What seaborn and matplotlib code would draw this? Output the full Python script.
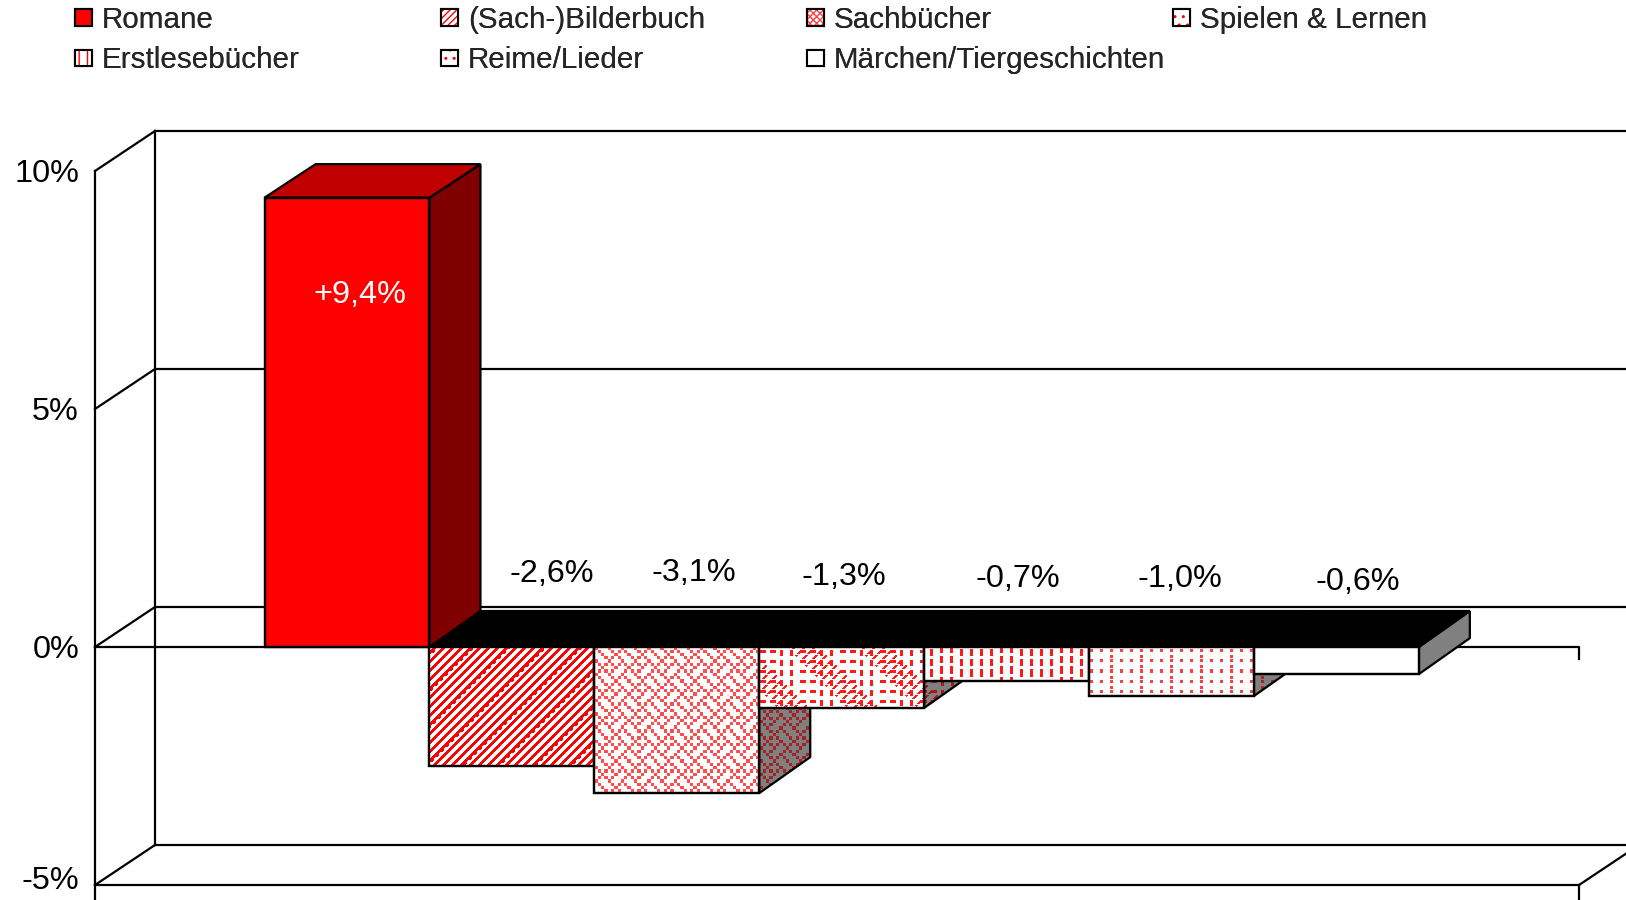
import numpy as np
import pandas as pd
import matplotlib
matplotlib.use("Agg")
import matplotlib.pyplot as plt
from matplotlib.patches import Polygon, Patch, Rectangle
from matplotlib.legend_handler import HandlerTuple
import seaborn as sns

categories = ["Romane", "(Sach-)Bilderbuch", "Sachbücher", "Spielen & Lernen",
              "Erstlesebücher", "Reime/Lieder", "Märchen/Tiergeschichten"]
values = [9.44, -2.5, -3.07, -1.28, -0.72, -1.03, -0.57]
labels = ["+9,4%", "-2,6%", "-3,1%", "-1,3%", "-0,7%", "-1,0%", "-0,6%"]
ticks = [-5, 0, 5, 10]
tick_labels = ["-5%", "0%", "5%", "10%"]

# Layout in pixels of the 1626x900 figure
W, H = 1626, 900
PX_PER_PCT = 47.6
Y0 = 647.0
X0 = 347.0
SLOT = 164.9
DX_BAR, DY_BAR = 51 / SLOT, 36 / PX_PER_PCT
DY_POS = 33.5 / PX_PER_PCT
DX_WALL, DY_WALL = 60 / SLOT, 40 / PX_PER_PCT
LW = 1.6
side_colors = ["#800000"] + ["#808080"] * 6
legend_hatches = [None, "/////", "xxxxx", "..", "||", "..", None]
legend_hatch_colors = ["red", "red", "#ff4040", "red", "red", "red", "red"]
tick_label_shift_px = [-4, 3.5, 3.5, 3.5]

# Fill textures (decoration only), one full-canvas mask per pattern
py, px = np.mgrid[0:H, 0:W]


def weave_mask():
    rows = ["10001000", "01010101", "00100010", "01000101",
            "10001000", "01010100", "00100010", "01010001"]
    bm = np.array([[c == "1" for c in r] for r in rows])
    return bm[(py / 3.3).astype(int) % 8, (px / 3.3).astype(int) % 8]


def stripe_mask():
    stripes = ((px + py) % 9) < 4
    beads = ((px + py) % 36 < 6) & ((px - py) % 10 < 5)
    return stripes | beads


def spiel_mask():
    band = (((px + py) % 10) < 3) & ((px - py) % 70 < 32) & (py % 5 < 4)
    hdash = (px % 10 < 6) & (py % 10 < 3) & (px % 40 < 20)
    vdash = (px % 10 < 3) & (py % 10 < 6) & (px % 40 >= 20)
    return band | hdash | vdash


def dash_mask():
    shift = (px % 60 >= 35) * 3
    return (px % 10 < 3) & ((py + shift) % 10 < 7)


def dot_mask():
    grid = (px % 10 < 3) & (py % 10 < 3)
    extra = (px % 10 < 3) & ((py + 4) % 10 < 3) & ((px % 30) < 10)
    return grid | extra


masks = [None, stripe_mask(), weave_mask(), spiel_mask(), dash_mask(), dot_mask(), None]
tex_colors = [None, (1, 0, 0), (1, .3, .3), (1, .1, .1), (1, .1, .1), (1, .25, .25), None]
side_tex_colors = [None, (.65, .1, .1), (.62, .15, .15), (.65, .1, .1), (.65, .1, .1), (.65, .15, .15), None]

sns.set_theme(style="white")
plt.rcParams["font.family"] = ["Liberation Sans", "DejaVu Sans"]

fig = plt.figure(figsize=(W / 100, H / 100), dpi=100, facecolor="white")
ax = fig.add_axes([0, 0, 1, 1])
df = pd.DataFrame({"cat": categories, "val": values})
sns.barplot(data=df, x="cat", y="val", order=categories, width=1.0, color="white",
            saturation=1, edgecolor="black", linewidth=LW, ax=ax, zorder=6)
xlim = ((0 - X0) / SLOT, (W - X0) / SLOT)
ylim = ((Y0 - H) / PX_PER_PCT, Y0 / PX_PER_PCT)
ax.axis("off")


def texture(clip_patch, mask, color, z):
    rgba = np.zeros((H, W, 4))
    rgba[..., :3] = color
    rgba[..., 3] = mask
    im = ax.imshow(rgba, extent=(*xlim, *ylim), origin="upper", aspect="auto",
                   interpolation="nearest", zorder=z)
    im.set_clip_path(clip_patch)


xl, xr = (95 - X0) / SLOT, (1579 - X0) / SLOT
bottom, top = ticks[0], ticks[-1]
line = dict(color="black", lw=LW, solid_capstyle="projecting")
# back wall, side wall, floor
ax.plot([xl, xl], [ylim[0], top], zorder=1, **line)
ax.plot([xl + DX_WALL] * 2, [bottom + DY_WALL, top + DY_WALL], zorder=1, **line)
for t, tl, shift in zip(ticks, tick_labels, tick_label_shift_px):
    ax.plot([xl, xl + DX_WALL], [t, t + DY_WALL], zorder=1, **line)
    ax.plot([xl + DX_WALL, xlim[1]], [t + DY_WALL] * 2, zorder=1, **line)
    ax.text(xl - 16 / SLOT, t - shift / PX_PER_PCT, tl, ha="right", va="center",
            fontsize=23.3, color="black", zorder=8)
ax.plot([xl, xr], [bottom, bottom], zorder=1, **line)
ax.plot([xr, xr + DX_WALL], [bottom, bottom + DY_WALL], zorder=1, **line)
ax.plot([xr, xr], [ylim[0], bottom], zorder=1, **line)
# zero axis with end tick
ax.plot([xl, xr, xr], [0, 0, -12 / PX_PER_PCT], zorder=3, **line)

# 3D faces of every bar, derived from the value
bars = list(ax.patches)[:len(values)]
for i, (bar, v) in enumerate(zip(bars, values)):
    x0, x1 = bar.get_x(), bar.get_x() + bar.get_width()
    y_hi = max(v, 0)
    dy = DY_POS if v > 0 else DY_BAR
    # top face above the side faces, so the negative bars form one black band
    ax.add_patch(Polygon([(x0, y_hi), (x1, y_hi), (x1 + DX_BAR, y_hi + dy), (x0 + DX_BAR, y_hi + dy)],
                         closed=True, fc="#c00000" if v > 0 else "black", ec="black", lw=LW,
                         joinstyle="bevel", zorder=5))
    side = [(x1, v), (x1, 0), (x1 + DX_BAR, dy), (x1 + DX_BAR, v + dy)]
    sp = Polygon(side, closed=True, fc=side_colors[i], ec="none", zorder=4)
    ax.add_patch(sp)
    if masks[i] is not None:
        texture(sp, masks[i], side_tex_colors[i], 4.1)
    ax.add_patch(Polygon(side, closed=True, fc="none", ec="black", lw=LW, joinstyle="bevel", zorder=4.2))
    bar.set_facecolor("red" if v > 0 else "white")
    if masks[i] is not None:
        texture(bar, masks[i], tex_colors[i], 6.1)
    ax.add_patch(Rectangle((x0, min(v, 0)), x1 - x0, abs(v), fc="none", ec="black", lw=LW, zorder=6.2 + i * .01))

ax.set_xlim(*xlim)
ax.set_ylim(*ylim)

# value labels (pixel centres)
label_px = [(360, 295), (552, 574), (694, 573), (844, 577), (1018, 579), (1180, 579), (1358, 582)]
for i, (lab, (lx, ly)) in enumerate(zip(labels, label_px)):
    ax.text((lx - X0) / SLOT, (Y0 - ly) / PX_PER_PCT, lab, ha="center", va="center",
            fontsize=23.3, color="white" if i == 0 else "black", zorder=9)

# legend: one per column, so the columns sit at even spacing
handles = []
for i, c in enumerate(categories):
    with plt.rc_context({"hatch.color": legend_hatch_colors[i], "hatch.linewidth": 0.9,
                         "patch.force_edgecolor": False}):
        fill = Patch(fc="red" if i == 0 else "white", hatch=legend_hatches[i], lw=0)
    outline = Patch(fc="none", ec="black", lw=1.5)
    handles.append((fill, outline))
cols = [[0, 4], [1, 5], [2, 6], [3]]
for c, idx in enumerate(cols):
    leg = fig.legend(handles=[handles[j] for j in idx], labels=[categories[j] for j in idx],
                     handler_map={tuple: HandlerTuple(ndivide=1, pad=0)},
                     loc="upper left", bbox_to_anchor=((63 + 366 * c) / W, 1 + 6 / H),
                     frameon=False, fontsize=21.3, handlelength=0.57, handleheight=0.48,
                     handletextpad=0.34, labelspacing=0.42, borderpad=0.4, borderaxespad=0)
    fig.add_artist(leg)

fig.savefig("out.png", dpi=100, facecolor="white")
